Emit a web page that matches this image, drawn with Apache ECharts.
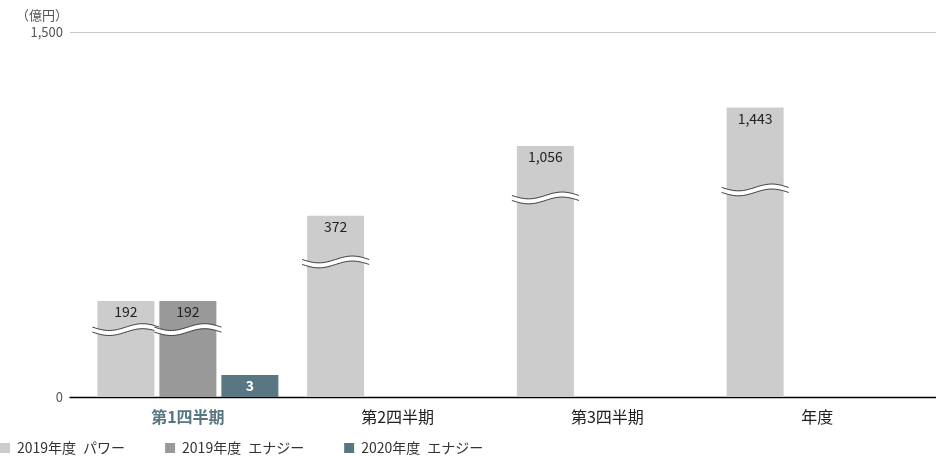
<!DOCTYPE html>
<html>
<head>
<meta charset="utf-8">
<script src="https://cdn.jsdelivr.net/npm/echarts@6/dist/echarts.min.js"></script>
<style>
  html, body { margin: 0; padding: 0; background: #fff; }
  #main { width: 936px; height: 456px; }
</style>
</head>
<body>
<div id="main"></div>
<script>
// categories and values (億円)
const categories = ['第1四半期', '第2四半期', '第3四半期', '年度'];
const seriesNames = ['2019年度\u2002パワー', '2019年度\u2002エナジー', '2020年度\u2002エナジー'];
const power2019 = [192, 372, 1056, 1443];
const energy2019 = [192, null, null, null];
const energy2020 = [3, null, null, null];
// bar heights as drawn on the broken axis (axis units)
const power2019Drawn = [395, 745, 1031, 1190];
const energy2019Drawn = [395, null, null, null];
const energy2020Drawn = [90, null, null, null];
// where each bar's break mark sits: [category, series slot, axis value]
const breakMarks = [[0, 0, 277], [0, 1, 277], [1, 0, 555], [2, 0, 818], [3, 0, 851]];
const yTicks = [0, 1500];

const FONT = '"Noto Sans CJK JP", "Noto Sans", sans-serif';
const BAR_W = 57;
const BAR_GAP = 5;
const colors = ['#cccccc', '#999999', '#587782'];

function fmt(v) {
    return v == null ? '' : v.toLocaleString('en-US');
}

function renderBreak(params, api) {
    const slot = api.value(1);
    const p = api.coord([api.value(0), api.value(2)]);
    const cx = p[0] + (slot - 1) * (BAR_W + BAR_GAP);
    const half = BAR_W / 2 + 5;
    const amp = 3.4, gapH = 5, n = 40;
    const top = [], bottom = [];
    for (let i = 0; i <= n; i++) {
        const x = cx - half + (2 * half) * i / n;
        const y = p[1] - gapH / 2 + amp * Math.sin(2 * Math.PI * i / n);
        top.push([x, y]);
        bottom.push([x, y + gapH]);
    }
    return {
        type: 'group',
        children: [
            { type: 'polygon', shape: { points: top.concat(bottom.slice().reverse()) }, style: { fill: '#fff' } },
            { type: 'polyline', shape: { points: top }, style: { stroke: '#3a3a3a', lineWidth: 1, fill: null } },
            { type: 'polyline', shape: { points: bottom }, style: { stroke: '#3a3a3a', lineWidth: 1, fill: null } }
        ]
    };
}

const myChart = echarts.init(document.getElementById('main'));
myChart.setOption({
    animation: false,
    textStyle: { fontFamily: FONT },
    title: {
        text: '（億円）', left: 11, top: 4,
        textStyle: { fontSize: 13, fontWeight: 'normal', color: '#555', fontFamily: FONT }
    },
    legend: {
        left: 0, bottom: 1, padding: 0,
        itemWidth: 10, itemHeight: 10, itemGap: 40,
        icon: 'rect',
        textStyle: { fontSize: 14, color: '#333', padding: [0, 0, 0, 2] },
        data: seriesNames
    },
    grid: [
        { left: 83, right: 14, top: 32, bottom: 59 },
        { left: 70, right: 0, top: 32, bottom: 59 }
    ],
    xAxis: [
        {
            type: 'category', gridIndex: 0, data: categories,
            axisLine: { show: false }, axisTick: { show: false },
            axisLabel: {
                margin: 12, fontSize: 16, color: '#222',
                formatter: (v, i) => i === 0 ? '{first|' + v + '}' : v,
                rich: { first: { fontSize: 16, fontWeight: 'bold', color: '#587782' } }
            }
        },
        {
            type: 'value', gridIndex: 1, min: 0, max: 1,
            axisLine: { show: true, onZero: false, lineStyle: { color: '#000', width: 1.3 } },
            axisTick: { show: false }, axisLabel: { show: false }, splitLine: { show: false }
        }
    ],
    yAxis: [
        { type: 'value', gridIndex: 0, min: yTicks[0], max: yTicks[1], show: false },
        {
            type: 'value', gridIndex: 1, min: yTicks[0], max: yTicks[1], interval: 1500,
            axisLine: { show: false }, axisTick: { show: false },
            axisLabel: { margin: 7, fontSize: 13, color: '#555', formatter: v => fmt(v) },
            splitLine: { show: true, lineStyle: { color: '#c8c8c8' } }
        }
    ],
    series: [
        {
            name: seriesNames[0], type: 'bar', data: power2019Drawn, barWidth: BAR_W, barGap: (BAR_GAP / BAR_W * 100) + '%',
            itemStyle: { color: colors[0] },
            label: { show: true, position: 'insideTop', distance: 4, fontSize: 14, color: '#222',
                formatter: p => fmt(power2019[p.dataIndex]) }
        },
        {
            name: seriesNames[1], type: 'bar', data: energy2019Drawn, barWidth: BAR_W,
            itemStyle: { color: colors[1] },
            label: { show: true, position: 'insideTop', distance: 4, fontSize: 14, color: '#222',
                formatter: p => fmt(energy2019[p.dataIndex]) }
        },
        {
            name: seriesNames[2], type: 'bar', data: energy2020Drawn, barWidth: BAR_W,
            itemStyle: { color: colors[2] },
            label: { show: true, position: 'inside', fontSize: 14, fontWeight: 'bold', color: '#fff',
                formatter: p => fmt(energy2020[p.dataIndex]) }
        },
        {
            type: 'custom', renderItem: renderBreak, data: breakMarks, z: 5, clip: false,
            encode: { x: 0, y: 2 }, silent: true
        }
    ]
});
</script>
</body>
</html>
